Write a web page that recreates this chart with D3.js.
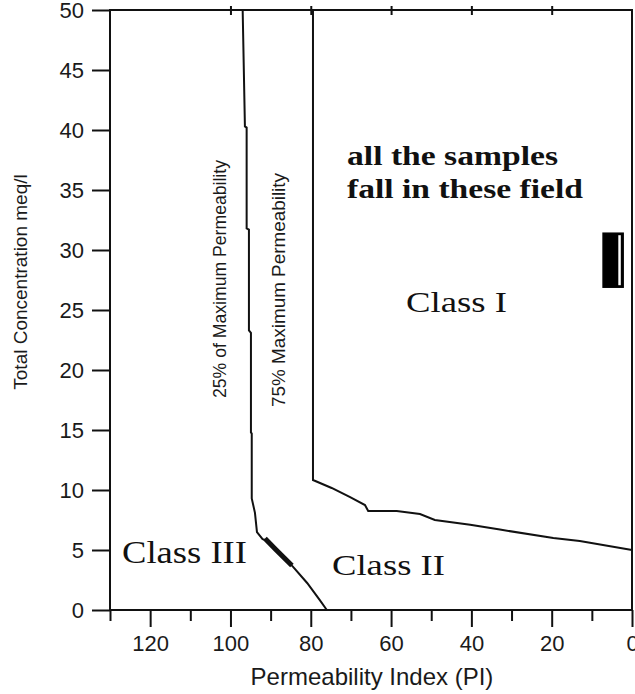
<!DOCTYPE html>
<html>
<head>
<meta charset="utf-8">
<script src="https://cdn.jsdelivr.net/npm/d3@7"></script>
<style>
    html, body { margin: 0; padding: 0; background: #fff; }
    svg { display: block; }
    .tick-label { font-family: "Liberation Sans", Arial, sans-serif; font-size: 22px; fill: #1a1a1a; }
    .serif { font-family: "Liberation Serif", "Times New Roman", serif; fill: #111; }
</style>
</head>
<body>
<div id="chart"></div>
<script>
// permeability index (PI) on x, total concentration (meq/l) on y
const xTicksMajor = [120, 100, 80, 60, 40, 20, 0];
const xTicksMinor = [130, 110, 90, 70, 50, 30, 10];
const xTicksTop = [100, 80, 60, 40, 20];
const yTicks = [0, 5, 10, 15, 20, 25, 30, 35, 40, 45, 50];

// 25% of maximum permeability boundary [PI, conc]
const line25 = [
    [96.96, 50], [96.4, 40.3], [95.97, 40.2], [95.97, 31.8], [95.4, 31.7],
    [95.4, 23.3], [94.9, 23.1], [94.9, 14.8], [94.7, 14.7], [94.7, 9.3],
    [93.9, 8.1], [93.4, 6.5], [92.0, 5.9], [90.9, 5.8], [87.7, 4.75],
    [84.4, 3.6], [80.9, 2.25], [77.7, 0.8], [76.0, 0]
];
// dense stretch of the 25% line
const line25Dense = [[91.4, 5.95], [88.6, 5.0], [84.7, 3.7]];

// 75% of maximum permeability boundary [PI, conc]
const line75 = [
    [79.45, 50], [79.45, 10.83], [74.8, 10.17], [70.2, 9.4], [66.5, 8.75],
    [65.7, 8.25], [58.6, 8.25], [52.8, 8.0], [49.1, 7.5], [40.3, 7.1],
    [32.9, 6.7], [19.6, 6.0], [13.0, 5.75], [0, 5.0]
];

// the sample cluster: [PI, conc] corners
const sampleBox = [[7.2, 26.9], [2.2, 31.4]];
const sampleStripe = [3.1, 26.9, 31.4];

const W = 635, H = 694;
const margin = { top: 10, right: 3, bottom: 84, left: 110 };

let svg = d3.select('#chart').append('svg')
    .attr('width', W)
    .attr('height', H);

let x = d3.scaleLinear().domain([130, 0]).range([margin.left, W - margin.right]);
let y = d3.scaleLinear().domain([0, 50]).range([H - margin.bottom, margin.top]);

let x0 = x.range()[0], x1 = x.range()[1];
let y0 = y.range()[0], y1 = y.range()[1];

// frame
svg.append('rect')
    .attr('x', x0).attr('y', y1)
    .attr('width', x1 - x0).attr('height', y0 - y1)
    .attr('fill', 'none').attr('stroke', '#111').attr('stroke-width', 2);

// bottom axis: major + minor ticks
let xAxis = d3.axisBottom(x).tickValues(xTicksMajor).tickSize(17).tickPadding(8).tickFormat(d3.format('d'));
let gx = svg.append('g').attr('transform', `translate(0,${y0})`).call(xAxis);
gx.select('.domain').remove();
gx.selectAll('line').attr('stroke', '#111').attr('stroke-width', 2);
gx.selectAll('text').attr('class', 'tick-label').attr('dy', '0.72em');

let gxm = svg.append('g').attr('transform', `translate(0,${y0})`)
    .call(d3.axisBottom(x).tickValues(xTicksMinor).tickSize(11).tickFormat(''));
gxm.select('.domain').remove();
gxm.selectAll('line').attr('stroke', '#111').attr('stroke-width', 2);

// top axis small ticks
let gxt = svg.append('g').attr('transform', `translate(0,${y1})`)
    .call(d3.axisTop(x).tickValues(xTicksTop).tickSize(4).tickFormat(''));
gxt.select('.domain').remove();
gxt.selectAll('line').attr('stroke', '#111').attr('stroke-width', 2).attr('y2', 5).attr('y1', -4);

// left axis
let yAxis = d3.axisLeft(y).tickValues(yTicks).tickSize(18).tickPadding(8);
let gy = svg.append('g').attr('transform', `translate(${x0},0)`).call(yAxis);
gy.select('.domain').remove();
gy.selectAll('line').attr('stroke', '#111').attr('stroke-width', 2);
gy.selectAll('text').attr('class', 'tick-label').attr('dy', '0.36em');

// axis titles
svg.append('text')
    .attr('x', 372).attr('y', 685)
    .attr('text-anchor', 'middle')
    .attr('class', 'tick-label')
    .style('font-size', '24px')
    .text('Permeability Index (PI)');

svg.append('text')
    .attr('transform', 'translate(27,282) rotate(-90)')
    .attr('text-anchor', 'middle')
    .attr('class', 'tick-label')
    .style('font-size', '19px')
    .text('Total Concentration meq/l');

// boundary lines
let line = d3.line().x(d => x(d[0])).y(d => y(d[1]));

svg.append('path').datum(line25)
    .attr('d', line).attr('fill', 'none')
    .attr('stroke', '#111').attr('stroke-width', 2);
svg.append('path').datum(line25Dense)
    .attr('d', line).attr('fill', 'none')
    .attr('stroke', '#111').attr('stroke-width', 5);
svg.append('path').datum(line75)
    .attr('d', line).attr('fill', 'none')
    .attr('stroke', '#111').attr('stroke-width', 2);

// sample cluster
svg.append('rect')
    .attr('x', x(sampleBox[0][0])).attr('y', y(sampleBox[1][1]))
    .attr('width', x(sampleBox[1][0]) - x(sampleBox[0][0]))
    .attr('height', y(sampleBox[0][1]) - y(sampleBox[1][1]))
    .attr('fill', '#000').attr('stroke', '#000').attr('stroke-width', 1.5);
svg.append('line')
    .attr('x1', x(sampleStripe[0])).attr('x2', x(sampleStripe[0]))
    .attr('y1', y(sampleStripe[1]) - 2).attr('y2', y(sampleStripe[2]) + 2)
    .attr('stroke', '#fff').attr('stroke-width', 2.5);

// boundary labels (rotated)
svg.append('text')
    .attr('transform', 'translate(226,279) rotate(-90)')
    .attr('text-anchor', 'middle')
    .attr('class', 'tick-label')
    .style('font-size', '18px')
    .attr('textLength', 238).attr('lengthAdjust', 'spacingAndGlyphs')
    .text('25% of Maximum Permeability');
svg.append('text')
    .attr('transform', 'translate(285,290) rotate(-90)')
    .attr('text-anchor', 'middle')
    .attr('class', 'tick-label')
    .style('font-size', '18px')
    .attr('textLength', 234).attr('lengthAdjust', 'spacingAndGlyphs')
    .text('75% Maximum Permeability');

// field annotations
function serifText(str, tx, ty, size, len, weight) {
    svg.append('text')
        .attr('x', tx).attr('y', ty)
        .attr('class', 'serif')
        .style('font-size', size + 'px')
        .style('font-weight', weight || 'normal')
        .attr('textLength', len).attr('lengthAdjust', 'spacingAndGlyphs')
        .text(str);
}
serifText('all the samples', 347, 165, 28, 211, 'bold');
serifText('fall in these field', 347, 198, 28, 236, 'bold');
serifText('Class I', 406, 312, 30, 101);
serifText('Class II', 332, 575, 29, 113);
serifText('Class III', 122, 563, 31, 125);
</script>
</body>
</html>
